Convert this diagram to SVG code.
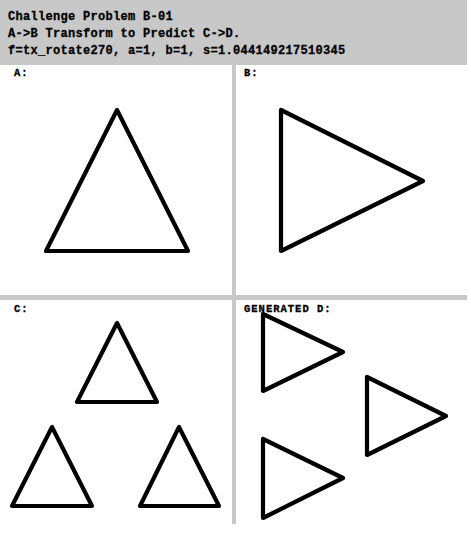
<svg xmlns="http://www.w3.org/2000/svg" width="471" height="533" viewBox="0 0 471 533">
<style>
.hdr{font-family:"Liberation Mono","DejaVu Sans Mono",monospace;font-weight:bold;font-size:12px;letter-spacing:0.3px;fill:#000;stroke:#000;stroke-width:0.3}
.lbl{font-family:"Liberation Mono","DejaVu Sans Mono",monospace;font-weight:bold;font-size:10.5px;letter-spacing:1px;fill:#000;stroke:#000;stroke-width:0.3}
.tri{fill:none;stroke:#000;stroke-width:4.2;stroke-linejoin:round}
.div{fill:#c8c8c8}
</style>
<rect width="471" height="533" fill="#fff"/>
<g id="header">
<rect class="div" x="0" y="0" width="467" height="65"/>
<text class="hdr" x="8" y="20">Challenge Problem B-01</text>
<text class="hdr" x="8" y="37">A-&gt;B Transform to Predict C-&gt;D.</text>
<text class="hdr" x="8" y="54">f=tx_rotate270, a=1, b=1, s=1.044149217510345</text>
</g>
<g id="dividers">
<rect class="div" x="232" y="65" width="4" height="459"/>
<rect class="div" x="0" y="295" width="467" height="5"/>
</g>
<g id="panelA">
<text class="lbl" x="14" y="76">A:</text>
<polygon class="tri" points="117,110 46,251 188,251"/>
</g>
<g id="panelB">
<text class="lbl" x="244" y="76">B:</text>
<polygon class="tri" points="281,110 281,251 423,181"/>
</g>
<g id="panelC">
<text class="lbl" x="14" y="312">C:</text>
<polygon class="tri" points="117,323 77,402 157,402"/>
<polygon class="tri" points="52,427 12,506 92,506"/>
<polygon class="tri" points="179,427 140,506 219,506"/>
</g>
<g id="panelD">
<polygon class="tri" points="263,314 263,391 343,352"/>
<polygon class="tri" points="367,377 367,455 446,416"/>
<polygon class="tri" points="263,439 263,518 343,478"/>
<text class="lbl" x="244" y="312">GENERATED D:</text>
</g>
</svg>
